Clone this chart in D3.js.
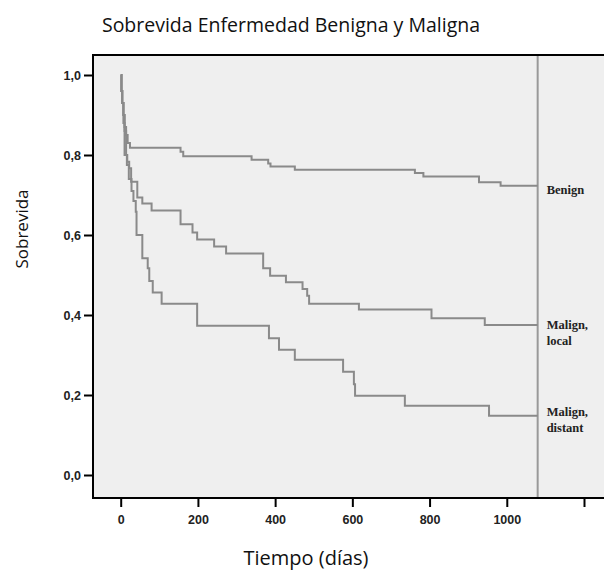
<!DOCTYPE html>
<html>
<head>
<meta charset="utf-8">
<script src="https://cdn.jsdelivr.net/npm/d3@7"></script>
<style>
  body { margin: 0; background: #fff; overflow: hidden; }
  svg { display: block; }
</style>
</head>
<body>
<svg id="chart" width="604" height="571"></svg>
<script>
// survival curves (days, proportion surviving), step after each time
var benignT = [0, 2, 4, 7, 10, 14, 18, 24, 155, 162, 339, 382, 388, 451, 762, 784, 928, 984, 1080];
var benignS = [1.0, 0.96, 0.93, 0.90, 0.87, 0.85, 0.83, 0.818, 0.808, 0.797, 0.788, 0.779, 0.771, 0.763, 0.755, 0.746, 0.732, 0.723, 0.723];

var localT = [0, 2, 4, 7, 10, 14, 17, 22, 27, 43, 56, 80, 155, 186, 198, 242, 273, 369, 387, 428, 471, 483, 488, 617, 805, 943, 1080];
var localS = [1.0, 0.96, 0.93, 0.90, 0.86, 0.80, 0.783, 0.767, 0.733, 0.694, 0.679, 0.661, 0.627, 0.606, 0.589, 0.571, 0.554, 0.517, 0.498, 0.482, 0.465, 0.448, 0.428, 0.414, 0.392, 0.375, 0.375];

var distantT = [0, 2, 4, 7, 10, 16, 21, 28, 33, 39, 41, 56, 70, 74, 83, 106, 198, 384, 410, 451, 576, 604, 607, 736, 954, 1080];
var distantS = [1.0, 0.96, 0.93, 0.88, 0.80, 0.775, 0.74, 0.71, 0.685, 0.658, 0.60, 0.542, 0.517, 0.485, 0.456, 0.428, 0.373, 0.342, 0.313, 0.288, 0.258, 0.227, 0.198, 0.173, 0.148, 0.148];

var seriesNames = [["Benign"], ["Malign,", "local"], ["Malign,", "distant"]];
var xTicks = [0, 200, 400, 600, 800, 1000, 1200];
var xTickLabels = ["0", "200", "400", "600", "800", "1000", ""];
var yTicks = [0, 0.2, 0.4, 0.6, 0.8, 1.0];
var yTickLabels = ["0,0", "0,2", "0,4", "0,6", "0,8", "1,0"];
var refDay = 1080;

var svg = d3.select("#chart");

var x = d3.scaleLinear().domain([0, 1200]).range([120.7, 584]);
var y = d3.scaleLinear().domain([0, 1]).range([475, 75]);

// plot area; frame is open to the right (cropped in the original)
svg.append("rect")
    .attr("x", 93).attr("y", 55)
    .attr("width", 520).attr("height", 443)
    .attr("fill", "#efefef");
svg.append("path")
    .attr("d", "M610,55H93V498H610")
    .attr("fill", "none")
    .attr("stroke", "#000").attr("stroke-width", 2);

// x axis
var xAxis = d3.axisBottom(x)
    .tickValues(xTicks)
    .tickSize(8)
    .tickFormat(function(d, i) { return xTickLabels[i]; });
var gx = svg.append("g").attr("transform", "translate(0,499)").call(xAxis);
gx.select(".domain").remove();
gx.selectAll("line").attr("stroke", "#000").attr("stroke-width", 2);
gx.selectAll("text")
    .attr("font-family", "Liberation Sans, Arial, sans-serif")
    .attr("font-weight", "bold")
    .attr("font-size", "12.5px")
    .attr("fill", "#222")
    .attr("dy", "1.1em");

// y axis
var yAxis = d3.axisLeft(y)
    .tickValues(yTicks)
    .tickSize(8)
    .tickFormat(function(d, i) { return yTickLabels[i]; });
var gy = svg.append("g").attr("transform", "translate(92,0)").call(yAxis);
gy.select(".domain").remove();
gy.selectAll("line").attr("stroke", "#000").attr("stroke-width", 2);
gy.selectAll("text")
    .attr("font-family", "Liberation Sans, Arial, sans-serif")
    .attr("font-weight", "bold")
    .attr("font-size", "12.5px")
    .attr("fill", "#222")
    .attr("x", -11);

// reference line at end of follow-up
svg.append("line")
    .attr("x1", x(refDay)).attr("x2", x(refDay))
    .attr("y1", 56).attr("y2", 497)
    .attr("stroke", "#999").attr("stroke-width", 2);

var line = d3.line()
    .x(function(d) { return x(d[0]); })
    .y(function(d) { return y(d[1]); })
    .curve(d3.curveStepAfter);

var allSeries = [
    d3.zip(benignT, benignS),
    d3.zip(localT, localS),
    d3.zip(distantT, distantS)
];

svg.selectAll("path.curve").data(allSeries).enter().append("path")
    .attr("class", "curve")
    .attr("d", line)
    .attr("fill", "none")
    .attr("stroke", "#8a8a8a")
    .attr("stroke-width", 2);

// curve labels, next to the last value of each curve
var labelDy = [8, 4, 0];
var labels = svg.selectAll("text.lbl").data(allSeries).enter().append("text")
    .attr("class", "lbl")
    .attr("x", x(refDay) + 9)
    .attr("y", function(d, i) { return y(d[d.length - 1][1]) + labelDy[i]; })
    .attr("font-family", "Liberation Serif, Times New Roman, serif")
    .attr("font-weight", "bold")
    .attr("font-size", "12.5px")
    .attr("fill", "#222");
labels.each(function(d, i) {
    var t = d3.select(this);
    seriesNames[i].forEach(function(s, k) {
        t.append("tspan").attr("x", x(refDay) + 9).attr("dy", k == 0 ? 0 : 16).text(s);
    });
});

// titles
svg.append("text")
    .attr("x", 291).attr("y", 32)
    .attr("text-anchor", "middle")
    .attr("font-family", "Open Sans, sans-serif")
    .attr("font-size", "19.5px")
    .attr("fill", "#111")
    .text("Sobrevida Enfermedad Benigna y Maligna");

svg.append("text")
    .attr("transform", "translate(28,229) rotate(-90)")
    .attr("text-anchor", "middle")
    .attr("font-family", "Open Sans, sans-serif")
    .attr("font-size", "17px")
    .attr("fill", "#111")
    .text("Sobrevida");

svg.append("text")
    .attr("x", 306).attr("y", 565)
    .attr("text-anchor", "middle")
    .attr("font-family", "Open Sans, sans-serif")
    .attr("font-size", "20px")
    .attr("fill", "#111")
    .text("Tiempo (días)");
</script>
</body>
</html>
